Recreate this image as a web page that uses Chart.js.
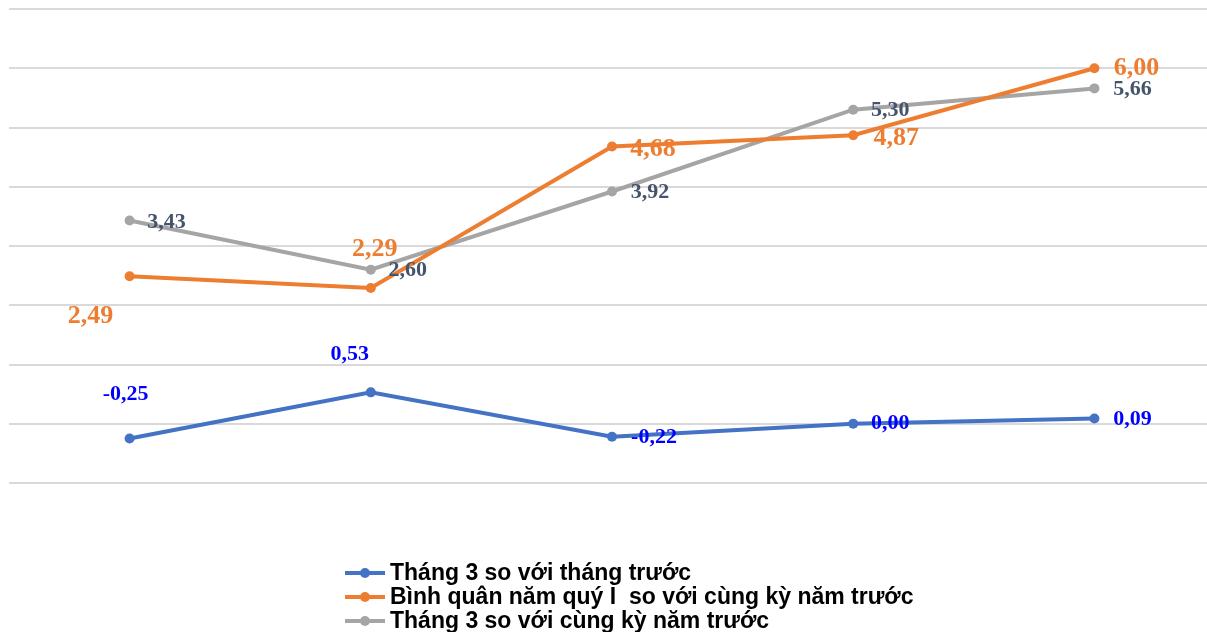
<!DOCTYPE html>
<html lang="vi">
<head>
    <meta charset="UTF-8">
    <title>Chỉ số giá</title>
    <script src="https://cdn.jsdelivr.net/npm/chart.js"></script>
    <style>
        html, body {
            margin: 0;
            padding: 0;
            background: #ffffff;
            overflow: hidden;
        }
        canvas {
            display: block;
        }
    </style>
</head>
<body>
<canvas id="priceChart" width="1220" height="632"></canvas>
<script>
    const categories = ['1', '2', '3', '4', '5'];
    const seriesNames = [
        'Tháng 3 so với tháng trước',
        'Bình quân năm quý I  so với cùng kỳ năm trước',
        'Tháng 3 so với cùng kỳ năm trước'
    ];
    const monthOnMonth = [-0.25, 0.53, -0.22, 0.00, 0.09];
    const quarterAverage = [2.49, 2.29, 4.68, 4.87, 6.00];
    const yearOnYear = [3.43, 2.60, 3.92, 5.30, 5.66];

    // label placement relative to each point (px)
    const labelOffsets = [
        [[-4, -44], [-21, -38], [42, 1], [37, 0], [38, 1]],
        [[-39, 40], [4, -39], [41, 3], [43, 3], [42, 0]],
        [[37, 2], [37, 1], [38, 1], [37, 1], [38, 1]]
    ];
    const labelStyles = [
        { color: '#0000FF', size: 22 },
        { color: '#ED7D31', size: 26 },
        { color: '#44546A', size: 22 }
    ];

    const lineColors = ['#4472C4', '#ED7D31', '#A5A5A5'];

    const fmt = v => v.toFixed(2).replace('.', ',');

    const valueLabels = {
        id: 'valueLabels',
        afterDatasetsDraw(chart) {
            const ctx = chart.ctx;
            ctx.save();
            ctx.textAlign = 'center';
            ctx.textBaseline = 'middle';
            chart.data.datasets.forEach((ds, i) => {
                const meta = chart.getDatasetMeta(i);
                ctx.fillStyle = labelStyles[i].color;
                ctx.font = 'bold ' + labelStyles[i].size + 'px "Liberation Serif", "Times New Roman", serif';
                meta.data.forEach((pt, j) => {
                    const off = labelOffsets[i][j];
                    ctx.fillText(fmt(ds.data[j]), pt.x + off[0], pt.y + off[1]);
                });
            });
            ctx.restore();
        }
    };

    const stackedLegend = {
        id: 'stackedLegend',
        afterDraw(chart) {
            const ctx = chart.ctx;
            const left = 345;
            const top = 573;
            const rowH = 24;
            ctx.save();
            ctx.font = 'bold 23px "Liberation Sans", Arial, sans-serif';
            ctx.textBaseline = 'middle';
            ctx.textAlign = 'left';
            chart.data.datasets.forEach((ds, i) => {
                const y = top + i * rowH;
                ctx.strokeStyle = ds.borderColor;
                ctx.lineWidth = 4;
                ctx.beginPath();
                ctx.moveTo(left, y);
                ctx.lineTo(left + 40, y);
                ctx.stroke();
                ctx.fillStyle = ds.borderColor;
                ctx.beginPath();
                ctx.arc(left + 20, y, 5, 0, Math.PI * 2);
                ctx.fill();
                ctx.fillStyle = '#000000';
                ctx.fillText(ds.label, left + 45, y + 1);
            });
            ctx.restore();
        }
    };

    const seriesData = [monthOnMonth, quarterAverage, yearOnYear];

    new Chart(document.getElementById('priceChart'), {
        type: 'line',
        data: {
            labels: categories,
            datasets: seriesData.map((d, i) => ({
                label: seriesNames[i],
                data: d,
                borderColor: lineColors[i],
                backgroundColor: lineColors[i],
                borderWidth: 4,
                pointRadius: 5,
                pointHoverRadius: 5,
                pointBorderWidth: 0,
                tension: 0,
                fill: false
            }))
        },
        options: {
            responsive: false,
            animation: false,
            layout: {
                padding: { left: 9, right: 0, top: 9, bottom: 149 }
            },
            plugins: {
                legend: { display: false },
                tooltip: { enabled: false }
            },
            scales: {
                x: {
                    display: false,
                    offset: true
                },
                y: {
                    min: -1,
                    max: 7,
                    ticks: { display: false, stepSize: 1 },
                    grid: { color: '#D9D9D9', lineWidth: 2, drawTicks: false },
                    border: { display: false }
                }
            }
        },
        plugins: [valueLabels, stackedLegend]
    });
</script>
</body>
</html>
